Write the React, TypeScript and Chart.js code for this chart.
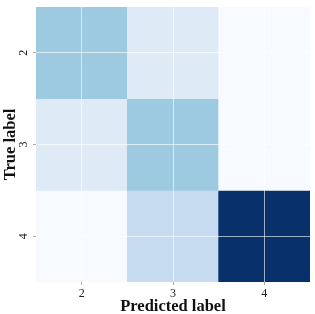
import React, { useEffect, useRef } from "react";
import { Chart, registerables } from "chart.js";

Chart.register(...registerables);

const predictedLabels = ["2", "3", "4"];
const trueLabels = [2, 3, 4];
const matrix = [
  [3, 1, 0],
  [1, 3, 0],
  [0, 2, 8],
];

const bluesStops = [
  [247, 251, 255],
  [222, 235, 247],
  [198, 219, 239],
  [158, 202, 225],
  [107, 174, 214],
  [66, 146, 198],
  [33, 113, 181],
  [8, 81, 156],
  [8, 48, 107],
];

function blues(t: number): string {
  const x = Math.max(0, Math.min(1, t)) * (bluesStops.length - 1);
  const i = Math.min(bluesStops.length - 2, Math.floor(x));
  const f = x - i;
  const a = bluesStops[i];
  const b = bluesStops[i + 1];
  const c = a.map((v, k) => Math.round(v + (b[k] - v) * f));
  return `rgb(${c[0]},${c[1]},${c[2]})`;
}

const FONT = "'Liberation Serif', 'DejaVu Serif', serif";

const rotatedYTicks = {
  id: "rotatedYTicks",
  afterDraw(chart: any) {
    const y = chart.scales.y;
    const ctx = chart.ctx;
    const x0 = chart.chartArea.left - 12;
    ctx.save();
    ctx.fillStyle = "#222";
    ctx.font = `12px ${FONT}`;
    ctx.textAlign = "center";
    ctx.textBaseline = "middle";
    for (const v of trueLabels) {
      const py = y.getPixelForValue(v);
      ctx.save();
      ctx.translate(x0, py);
      ctx.rotate(-Math.PI / 2);
      ctx.fillText(String(v), 0, 0);
      ctx.restore();
    }
    ctx.restore();
  },
};

export default function App() {
  const ref = useRef<HTMLCanvasElement | null>(null);
  useEffect(() => {
    if (!ref.current) return;
    const maxV = Math.max(...matrix.flat());
    const datasets = trueLabels.map((r, ri) => ({
      label: String(r),
      data: predictedLabels.map(() => [r - 0.5, r + 0.5]),
      backgroundColor: matrix[ri].map((v) => blues(v / maxV)),
      borderWidth: 0,
      borderSkipped: false,
      barPercentage: 1,
      categoryPercentage: 1,
      grouped: false,
    }));
    const chart = new Chart(ref.current, {
      type: "bar",
      data: { labels: predictedLabels, datasets: datasets as any },
      plugins: [rotatedYTicks],
      options: {
        animation: false,
        responsive: false,
        maintainAspectRatio: false,
        layout: { padding: { top: 7, right: 5, left: 2, bottom: 0 } },
        plugins: { legend: { display: false }, tooltip: { enabled: false } },
        scales: {
          x: {
            offset: true,
            grid: {
              z: 1,
              offset: false,
              color: "rgba(255,255,255,0.6)",
              lineWidth: 1,
              tickColor: "#aaa",
              tickLength: 3,
            },
            border: { display: false },
            ticks: { color: "#222", font: { family: FONT, size: 12 }, padding: 2 },
            title: {
              display: true,
              text: "Predicted label",
              color: "#111",
              font: { family: FONT, size: 16.5, weight: "bold", lineHeight: 1 },
              padding: { top: 0, bottom: -1 },
            },
            afterFit: (s: any) => {
              s.height = 32;
            },
          },
          y: {
            type: "linear",
            reverse: true,
            min: 1.5,
            max: 4.5,
            afterBuildTicks: (s: any) => {
              s.ticks = trueLabels.map((v) => ({ value: v }));
            },
            grid: {
              z: 1,
              color: "rgba(255,255,255,0.6)",
              lineWidth: 1,
              tickColor: "#aaa",
              tickLength: 3,
            },
            border: { display: false },
            ticks: { display: false },
            title: {
              display: true,
              text: "True label",
              color: "#111",
              font: { family: FONT, size: 16.5, weight: "bold", lineHeight: 1 },
              padding: { top: 0, bottom: 0 },
            },
            afterFit: (s: any) => {
              s.width = 34;
            },
          },
        },
      },
    });
    return () => chart.destroy();
  }, []);
  return (
    <div style={{ position: "absolute", left: 0, top: 0, width: 315, height: 314, background: "#fff" }}>
      <canvas ref={ref} width={315} height={314} style={{ width: 315, height: 314 }} />
    </div>
  );
}
